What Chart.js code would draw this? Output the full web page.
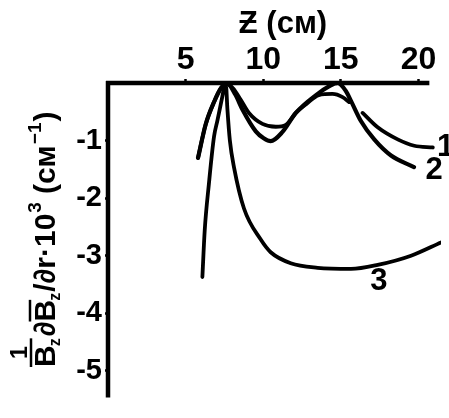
<!DOCTYPE html>
<html><head><meta charset="utf-8">
<script src="https://cdn.jsdelivr.net/npm/chart.js@4/dist/chart.umd.min.js"></script>
<style>html,body{margin:0;padding:0;background:#fff}#wrap{width:449px;height:418px;position:relative}</style>
</head><body><div id="wrap"><canvas id="c"></canvas></div>
<script>
const xTickValues=[5,10,15,20];
const yTickValues=[-1,-2,-3,-4,-5];
const curve1X=[5.8,6.29,6.83,7.3,7.7,8.05,8.55,9.08,9.95,10.81,11.45,12.1,12.8,13.58,14.46,15.11,15.52,16.0,16.4,17.37,18.66,19.73,20.92];
const curve1Y=[-1.3,-0.72,-0.33,-0.08,-0.02,-0.09,-0.29,-0.52,-0.71,-0.76,-0.73,-0.52,-0.36,-0.21,-0.19,-0.245,-0.33,null,-0.52,-0.77,-0.98,-1.09,-1.12];
const curve2X=[5.8,6.29,6.83,7.3,7.7,8.2,8.66,9.52,10.03,10.48,11.24,12.1,13.4,14.23,14.8,15.32,15.65,16.29,17.15,18.23,19.71];
const curve2Y=[-1.3,-0.72,-0.33,-0.08,-0.02,-0.2,-0.46,-0.84,-0.96,-1.01,-0.85,-0.52,-0.21,-0.06,0.0,-0.14,-0.31,-0.66,-0.98,-1.26,-1.46];
const curve3X=[6.08,6.23,6.5,6.83,7.05,7.37,7.5,7.6,7.69,7.85,8.12,8.76,9.84,10.48,11.77,13.5,15.65,17.37,19.52,21.45];
const curve3Y=[-3.37,-2.56,-1.75,-0.93,-0.65,-0.23,-0.06,-0.05,-0.45,-1.0,-1.47,-2.18,-2.72,-2.94,-3.13,-3.21,-3.23,-3.16,-3.0,-2.77];
const curveLabels=['1','2','3'];
const curveLabelX=[21.75,21.0,17.45];
const curveLabelY=[-1.26,-1.66,-3.59];
const xTitle='Ƶ (см)';

const F='"Liberation Sans",Arial,sans-serif';
function pts(xs,ys){return xs.map((x,i)=>({x:x,y:ys[i]}));}

function drawYTitle(ctx){
  ctx.save();
  ctx.translate(55,367); ctx.rotate(-Math.PI/2);
  ctx.fillStyle='#000'; ctx.strokeStyle='#000'; ctx.textBaseline='alphabetic'; ctx.textAlign='left';
  const big='bold 30px '+F, sub='bold 16px '+F, sup='bold 19px '+F, num='bold 23px '+F;
  let u=0;
  ctx.font=big; const wB=ctx.measureText('B').width;
  ctx.fillText('B',u,0);
  ctx.font=sub; const wz=ctx.measureText('z').width; ctx.fillText('z',u+wB-1,5);
  const fw=wB+wz-1;
  ctx.lineWidth=2.5; ctx.beginPath(); ctx.moveTo(u,-24); ctx.lineTo(u+fw,-24); ctx.stroke();
  ctx.font=num; ctx.textAlign='center'; ctx.fillText('1',u+fw/2,-28); ctx.textAlign='left';
  u+=fw+2;
  ctx.font=big; ctx.fillText('∂',u,0); u+=ctx.measureText('∂').width;
  const bs=u; ctx.fillText('B',u,0); u+=wB;
  ctx.beginPath(); ctx.moveTo(bs,-25); ctx.lineTo(u,-25); ctx.stroke();
  ctx.font=sub; ctx.fillText('z',u-1,5); u+=wz;
  ctx.font=big; ctx.fillText('/∂r·10',u,0); u+=ctx.measureText('/∂r·10').width;
  ctx.font=sup; ctx.fillText('3',u+1,-14); u+=ctx.measureText('3').width+9;
  ctx.font=big; ctx.fillText('(см',u,0); u+=ctx.measureText('(см').width;
  ctx.font=sup; ctx.fillText('−1',u+1,-14); u+=ctx.measureText('−1').width+2;
  ctx.font=big; ctx.fillText(')',u,0);
  ctx.restore();
}

const decor={id:'decor',afterDatasetsDraw(chart){
  const {ctx,scales:{x,y},chartArea}=chart;
  ctx.save();
  ctx.strokeStyle='#000'; ctx.lineWidth=4.5;
  const y0=y.getPixelForValue(0), x0=x.getPixelForValue(0);
  ctx.beginPath(); ctx.moveTo(x0-2,y0); ctx.lineTo(x.getPixelForValue(20.7),y0); ctx.stroke();
  ctx.beginPath(); ctx.moveTo(x0,y0-2); ctx.lineTo(x0,chartArea.bottom); ctx.stroke();
  ctx.fillStyle='#000'; ctx.font='bold 31px '+F; ctx.textAlign='center'; ctx.textBaseline='alphabetic';
  curveLabels.forEach((t,i)=>ctx.fillText(t,x.getPixelForValue(curveLabelX[i]),y.getPixelForValue(curveLabelY[i])));
  ctx.font='bold 31px '+F;
  ctx.fillText(xTitle,283,33);
  ctx.restore();
  drawYTitle(ctx);
}};

const ds=(xs,ys,w)=>({data:pts(xs,ys),borderColor:'#000',borderWidth:w,pointRadius:0,cubicInterpolationMode:'monotone',spanGaps:false,fill:false,borderCapStyle:'round',borderJoinStyle:'round'});
new Chart(document.getElementById('c'),{
  type:'line',
  data:{datasets:[ds(curve1X,curve1Y,3.8),ds(curve2X,curve2Y,4.2),ds(curve3X,curve3Y,3.8)]},
  options:{
    responsive:true,maintainAspectRatio:false,animation:false,
    layout:{padding:{left:0,right:8,top:0,bottom:0}},
    plugins:{legend:{display:false},tooltip:{enabled:false}},
    scales:{
      x:{type:'linear',position:'top',min:0,max:21.45,
        afterBuildTicks:s=>{s.ticks=xTickValues.map(v=>({value:v}));},
        afterFit:s=>{s.height=83;},
        ticks:{font:{family:F,size:32,weight:'bold'},color:'#000',padding:0,maxRotation:0,autoSkip:false},
        grid:{display:true,drawOnChartArea:false,drawTicks:true,tickLength:4,tickWidth:2.5,tickColor:'#000'},
        border:{display:false},title:{display:false}},
      y:{type:'linear',min:-5.465,max:0,
        afterBuildTicks:s=>{s.ticks=yTickValues.map(v=>({value:v}));},
        afterFit:s=>{s.width=108;},
        ticks:{font:{family:F,size:29,weight:'bold'},color:'#000',padding:3,autoSkip:false,callback:v=>'-'+Math.abs(v)},
        grid:{display:true,drawOnChartArea:false,drawTicks:true,tickLength:3,tickWidth:2.5,tickColor:'#000'},
        border:{display:false},title:{display:false}}
    }
  },
  plugins:[decor]
});
</script></body></html>
